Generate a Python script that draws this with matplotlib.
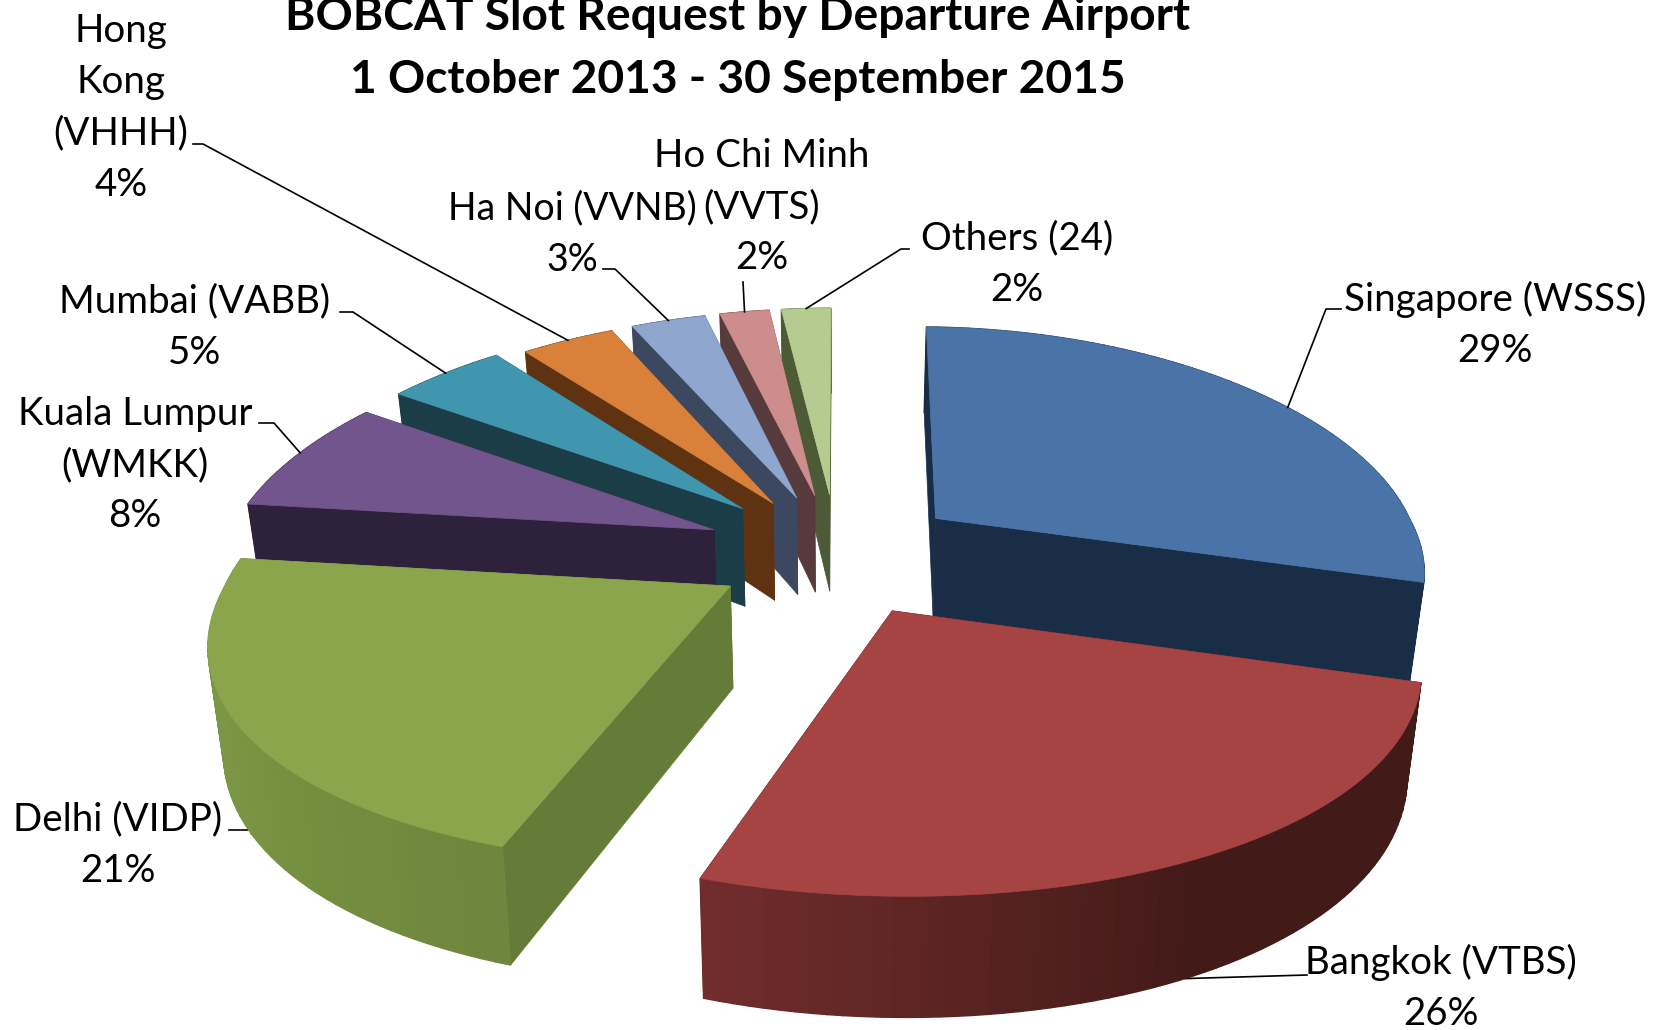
#!/usr/bin/env python3

import numpy as np
import matplotlib
matplotlib.use("Agg")
import matplotlib.pyplot as plt
from matplotlib.colors import to_rgb

airports = ["Singapore (WSSS)", "Bangkok (VTBS)", "Delhi (VIDP)", "Kuala Lumpur\n(WMKK)", "Mumbai (VABB)",
            "Hong\nKong\n(VHHH)", "Ha Noi (VVNB)", "Ho Chi Minh\n(VVTS)", "Others (24)"]
shares = [29, 26, 21, 8, 5, 4, 3, 2, 2]

top_colors = ["#4A74A8", "#A54442", "#8AA54C", "#71558C", "#4196AF", "#D9813A", "#8FA6CE", "#CE8D8D", "#B6CB90"]
face_colors = ["#192D47", "#421A18", "#657C38", "#2E213C", "#1A3D48", "#5F3311", "#3C4860", "#573A3C", "#4C5A36"]
rim_light = ["#192D47", "#752E2E", "#7B9644", "#2E213C", "#1A3D48", "#5F3311", "#3C4860", "#573A3C", "#4C5A36"]

# projection of the pie, in pixels of the picture
XC, YC, YV, YXV = 837, 552, -1054, -527
RX, RX_BACK, RY = 490, 20, 0.142
EX, EY = 125, 0.037
HEIGHT = 100
SHRINK = 0.975
# excel's 3d view bends the angles a little and moves slices off their radius
WARP_AT = [0, 104, 198, 285, 335, 360]
WARP_BY = [1.2, 2, 1, 3.5, 0, 0]
nudge_x = [3, -8, 0, -6, -4, 0, 0, 0, 0]
nudge_y = [2, 5, 0, -4, -5, 0, 0, 0, 0]

# label centres and the leader points between label and rim
label_pos = [(1495, 325), (1441, 988), (118, 845), (135, 465), (195, 327), (121, 108), (572, 234), (762, 207), (1017, 264)]
label_size = [27.7, 27.7, 27.7, 27.7, 27.7, 27.7, 27, 27.7, 27.7]
leader_elbow = [[(1341, 309), (1326, 309)], [(1307, 975)], [(229, 830), (285, 830)],
                [(259, 423), (274, 423)], [(340, 312), (353, 312)], [(193, 144), (203, 144)],
                [(603, 269), (615, 269)], [(743, 282)], [(909, 249), (901, 249)]]
leader_shift = [3, 0, 0, 0, 0, 0, 0, 0, 0]
leader_bottom = [False, True, True, False, False, False, False, False, False]


def project(theta, rho, mid, i):
    # theta clockwise from 12 o'clock, rho 0-1 along the radius
    theta = theta + np.interp(theta, WARP_AT, WARP_BY)
    t, m = np.radians(theta), np.radians(mid)
    radius = RX + RX_BACK * np.maximum(np.cos(t), 0)
    x = EX * np.sin(m) + radius * rho * np.sin(t)
    yn = -EY * np.cos(m) - RY * rho * np.cos(t)
    f = 1 / (1 - yn)
    py = YV + (YC - YV) * f
    fx = (py - YXV) / (YC - YXV)
    return XC + x * fx + nudge_x[i], py + nudge_y[i], f


def drop(px, py, f):
    return XC + (px - XC) * SHRINK, py + HEIGHT * f


def mix(c1, c2, t):
    c1, c2 = np.array(to_rgb(c1)), np.array(to_rgb(c2))
    return tuple(c1 + (c2 - c1) * t)


def draw_slice(ax, i, start, end):
    mid = (start + end) / 2
    ap_x, ap_y, ap_f = project(start, 0, mid, i)
    ap_bx, ap_by = drop(ap_x, ap_y, ap_f)

    for edge in (start, end):
        ex, ey, ef = project(edge, 1, mid, i)
        bx, by = drop(ex, ey, ef)
        ax.fill([ap_x, ex, bx, ap_bx], [ap_y, ey, by, ap_by], color=face_colors[i], lw=0.5)

    angles = np.linspace(start, end, max(int((end - start) / 1.5) + 2, 3))
    px, py, pf = project(angles, 1, mid, i)
    bx, by = drop(px, py, pf)
    for j in range(len(angles) - 1):
        t = np.clip((angles[j] - 170) / (270 - 170) * 1.4, 0, 1) if end > 190 else 0
        if i == 1:
            t = np.clip((200 - angles[j]) / (200 - 150), 0, 1)
            color = mix(rim_light[i], face_colors[i], t)
        else:
            color = mix(face_colors[i], rim_light[i], t)
        ax.fill([px[j], px[j + 1], bx[j + 1], bx[j]], [py[j], py[j + 1], by[j + 1], by[j]], color=color, lw=1.0)

    smooth = np.linspace(start, end, 120)
    sx, sy, _ = project(smooth, 1, mid, i)
    ax.fill(np.r_[ap_x, sx], np.r_[ap_y, sy], color=top_colors[i], lw=0.5)


fig = plt.figure(figsize=(16.53, 10.30), dpi=100)
ax = fig.add_axes([0, 0, 1, 1])
ax.set_xlim(0, 1653)
ax.set_ylim(1030, 0)
ax.axis("off")
plt.rcParams["font.family"] = ["Lato", "DejaVu Sans"]

edges = np.r_[0, np.cumsum(shares)] * 360 / sum(shares)
draw_order = [8, 7, 6, 5, 4, 3, 0, 2, 1]
for i in draw_order:
    draw_slice(ax, i, edges[i], edges[i + 1])

for i in range(len(shares)):
    mid = (edges[i] + edges[i + 1]) / 2
    ex, ey, ef = project(mid + leader_shift[i], 1, mid, i)
    if leader_bottom[i]:
        ex, ey = drop(ex, ey, ef)
    xs = [p[0] for p in leader_elbow[i]] + [ex]
    ys = [p[1] for p in leader_elbow[i]] + [ey]
    ax.plot(xs, ys, color="black", lw=1.2, zorder=0.5 if leader_bottom[i] else 5)
    ax.text(label_pos[i][0], label_pos[i][1], f"{airports[i]}\n{shares[i]}%", ha="center", va="center",
            fontsize=label_size[i], linespacing=1.53, color="black", zorder=6)

ax.text(738, 17, "BOBCAT Slot Request by Departure Airport", ha="center", va="center",
        fontsize=33.2, fontweight="bold", color="black")
ax.text(738, 80, "1 October 2013 - 30 September 2015", ha="center", va="center",
        fontsize=33.2, fontweight="bold", color="black")

fig.savefig("out.png", dpi=100)
